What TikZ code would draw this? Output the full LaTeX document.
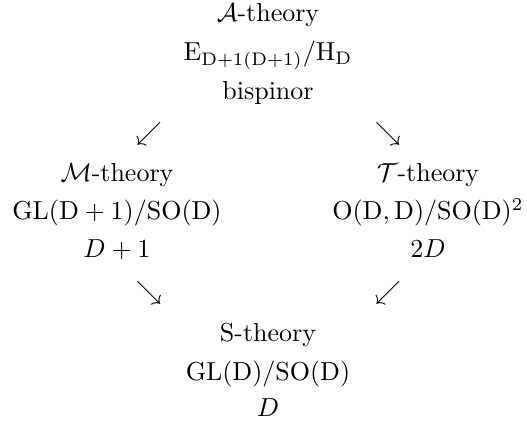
\documentclass[tikz,border=0pt]{standalone}
\usepackage{amsmath}
\begin{document}
\begin{tikzpicture}[x=0.3846pt,y=-0.3846pt,
  txt/.style={anchor=base,inner sep=0pt,outer sep=0pt},
  arr/.style={anchor=center,inner sep=0pt}]
\useasboundingbox (0,0) rectangle (527,428);
% top block
\node[txt] (a1) at (268,22) {$\mathcal{A}$-theory};
\node[txt] (a2) at (268,61) {$\mathrm{E_{D+1(D+1)}/H_D}$};
\node[txt] (a3) at (268,100) {bispinor};
% left block
\node[txt] (m1) at (117,182) {$\mathcal{M}$-theory};
\node[txt] (m2) at (117,220) {$\mathrm{GL(D+1)/SO(D)}$};
\node[txt] (m3) at (117,258) {$D+1$};
% right block
\node[txt] (t1) at (428,182) {$\mathcal{T}$-theory};
\node[txt] (t2) at (428,220) {$\mathrm{O(D,D)/SO(D)^2}$};
\node[txt] (t3) at (428,258) {$2D$};
% bottom block
\node[txt] (s1) at (268,342) {S-theory};
\node[txt] (s2) at (268,381) {$\mathrm{GL(D)/SO(D)}$};
\node[txt] (s3) at (268,417) {$D$};
% arrows
\node[arr] (ar1) at (149,134) {$\swarrow$};
\node[arr] (ar2) at (388,134) {$\searrow$};
\node[arr] (ar3) at (149,293) {$\searrow$};
\node[arr] (ar4) at (388,293) {$\swarrow$};
\end{tikzpicture}
\end{document}
